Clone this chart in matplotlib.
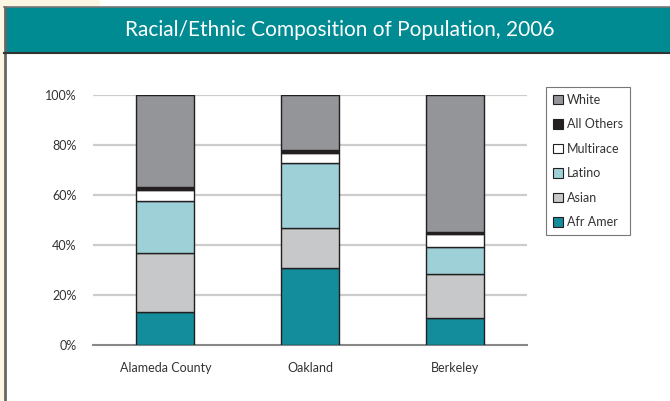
import matplotlib
matplotlib.use('Agg')
import matplotlib.pyplot as plt
from matplotlib.patches import Rectangle, Patch
from matplotlib.lines import Line2D

plt.rcParams['font.family'] = ['Lato', 'DejaVu Sans']

# Data (percent of population)
places = ['Alameda County', 'Oakland', 'Berkeley']
groups = ['Afr Amer', 'Asian', 'Latino', 'Multirace', 'All Others', 'White']
afr_amer = [13.1, 30.7, 10.7]
asian = [23.6, 16.2, 17.8]
latino = [20.8, 26.0, 10.7]
multirace = [4.4, 3.8, 5.2]
all_others = [1.4, 1.3, 0.9]
white = [36.7, 22.0, 54.7]
series = [afr_amer, asian, latino, multirace, all_others, white]
colors = ['#138c9b', '#c7c8ca', '#9dd1d7', '#ffffff', '#231f20', '#939598']
yticks = [0, 20, 40, 60, 80, 100]

W, H = 670, 401
fig = plt.figure(figsize=(W / 100, H / 100), dpi=100)
fig.patch.set_facecolor('white')

def fx(px):
    return px / W

def fy(py):
    return 1 - py / H

# cream page background strips + frame
fig.patches.append(Rectangle((0, 0), fx(4), 1, transform=fig.transFigure,
                             facecolor='#fdf6e3', edgecolor='none', zorder=0))
fig.patches.append(Rectangle((0, fy(7)), fx(100), 1 - fy(7), transform=fig.transFigure,
                             facecolor='#fdf6e3', edgecolor='none', zorder=0))
fig.lines.append(Line2D([fx(5), fx(5)], [0, fy(7)], transform=fig.transFigure,
                        color='#666666', lw=2))

# header band
fig.patches.append(Rectangle((fx(5), fy(53)), 1 - fx(5), fy(7) - fy(53),
                             transform=fig.transFigure, facecolor='#008a92',
                             edgecolor='none', zorder=1))
fig.lines.append(Line2D([fx(4), 1], [fy(7), fy(7)], transform=fig.transFigure,
                        color='#777777', lw=1.2, zorder=2))
fig.lines.append(Line2D([fx(4), 1], [fy(53), fy(53)], transform=fig.transFigure,
                        color='#333333', lw=1.5, zorder=2))
fig.text(fx(340), fy(30), 'Racial/Ethnic Composition of Population, 2006',
         color='white', fontsize=15, ha='center', va='center')

# plot area
ax = fig.add_axes([fx(93), fy(345), fx(527) - fx(93), fy(95) - fy(345)])
ax.set_xlim(-0.5, 2.5)
ax.set_ylim(0, 100)
ax.set_facecolor('none')

bottom = [0, 0, 0]
handles = {}
for name, vals, c in zip(groups, series, colors):
    ax.bar(range(len(places)), vals, width=0.4, bottom=bottom, color=c,
           edgecolor='#231f20', linewidth=1.0, zorder=3)
    handles[name] = Patch(facecolor=c, edgecolor='#231f20', linewidth=0.8)
    bottom = [b + v for b, v in zip(bottom, vals)]

ax.set_yticks(yticks)
ax.set_yticklabels([f'{t}%' for t in yticks])
ax.set_xticks(range(len(places)))
ax.set_xticklabels(places)
ax.tick_params(length=0, labelsize=9, labelcolor='#333333')
ax.tick_params(axis='y', pad=12)
ax.tick_params(axis='x', pad=12)
for t in yticks[1:]:
    ax.axhline(t, color='#cccccc', lw=1.6, zorder=1)
for s in ['top', 'right', 'left']:
    ax.spines[s].set_visible(False)
ax.spines['bottom'].set_color('#888888')
ax.spines['bottom'].set_linewidth(1.5)

order = ['White', 'All Others', 'Multirace', 'Latino', 'Asian', 'Afr Amer']
leg = fig.legend([handles[n] for n in order], order, loc='upper left',
                 bbox_to_anchor=(fx(546), fy(87)), frameon=True, fancybox=False,
                 fontsize=9, handlelength=0.8, handleheight=0.8, handletextpad=0.3,
                 labelspacing=1.0, borderpad=0.55, borderaxespad=0)
leg.get_frame().set_edgecolor('#555555')
leg.get_frame().set_linewidth(0.8)
for t in leg.get_texts():
    t.set_color('#333333')

fig.savefig('out.png', dpi=100)
